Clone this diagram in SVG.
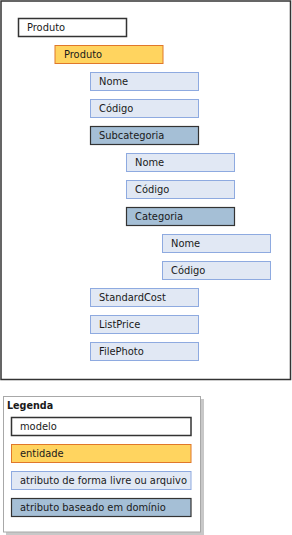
<svg xmlns="http://www.w3.org/2000/svg" width="292" height="535" viewBox="0 0 292 535">
<style>
text{font-family:"DejaVu Sans",Verdana,sans-serif;font-size:9.9px;fill:#1a1a1a}
.model{fill:#fff;stroke:#333;stroke-width:1.5}
.ent{fill:#ffd45f;stroke:#e0782a;stroke-width:1}
.attr{fill:#e1e8f4;stroke:#8eaae0;stroke-width:1}
.dom{fill:#a5bfd6;stroke:#333;stroke-width:1.2}
</style>
<rect x="1" y="1" width="289.5" height="378.5" fill="#fff" stroke="#333" stroke-width="1.5"/>
<g id="model-produto"><rect class="model" x="18.5" y="18.5" width="108" height="18"/><text x="27" y="31">Produto</text></g>
<g id="entity-produto"><rect class="ent" x="55" y="45.5" width="108" height="18"/><text x="64" y="58">Produto</text></g>
<g id="attr-nome"><rect class="attr" x="90.5" y="72.5" width="108" height="18"/><text x="99" y="85">Nome</text></g>
<g id="attr-codigo"><rect class="attr" x="90.5" y="99.5" width="108" height="18"/><text x="99" y="112">Código</text></g>
<g id="dom-subcategoria"><rect class="dom" x="90.5" y="126.5" width="108" height="18"/><text x="99" y="139">Subcategoria</text></g>
<g id="sub-nome"><rect class="attr" x="126.5" y="153.5" width="108" height="18"/><text x="135" y="166">Nome</text></g>
<g id="sub-codigo"><rect class="attr" x="126.5" y="180.5" width="108" height="18"/><text x="135" y="193">Código</text></g>
<g id="dom-categoria"><rect class="dom" x="126.5" y="207.5" width="108" height="18"/><text x="135" y="220">Categoria</text></g>
<g id="cat-nome"><rect class="attr" x="162.5" y="234.5" width="108" height="18"/><text x="171" y="247">Nome</text></g>
<g id="cat-codigo"><rect class="attr" x="162.5" y="261.5" width="108" height="18"/><text x="171" y="274">Código</text></g>
<g id="attr-standardcost"><rect class="attr" x="90.5" y="288.5" width="108" height="18"/><text x="99" y="301">StandardCost</text></g>
<g id="attr-listprice"><rect class="attr" x="90.5" y="315.5" width="108" height="18"/><text x="99" y="328">ListPrice</text></g>
<g id="attr-filephoto"><rect class="attr" x="90.5" y="342.5" width="108" height="18"/><text x="99" y="355">FilePhoto</text></g>
<g id="connectors"></g>
<g id="legend">
<rect x="6" y="399" width="198" height="136" fill="#c8c8c8"/>
<rect x="3.5" y="396.5" width="197" height="135.5" fill="#fff" stroke="#a8a8a8" stroke-width="1"/>
<text x="7" y="409" style="font-weight:bold;font-size:9.6px">Legenda</text>
<rect class="model" x="11.5" y="417.5" width="179.5" height="18"/><text x="20" y="430">modelo</text>
<rect class="ent" x="11.5" y="444.5" width="179.5" height="18"/><text x="20" y="457">entidade</text>
<rect class="attr" x="11.5" y="471.5" width="179.5" height="18"/><text x="20" y="484">atributo de forma livre ou arquivo</text>
<rect class="dom" x="11.5" y="498.5" width="179.5" height="18"/><text x="20" y="511">atributo baseado em domínio</text>
</g>
</svg>
